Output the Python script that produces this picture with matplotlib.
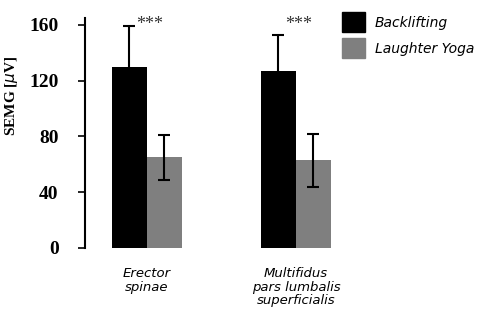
import numpy as np
import matplotlib.pyplot as plt
from matplotlib.patches import Patch

# data
muscles = ['Erector\nspinae', 'Multifidus\npars lumbalis\nsuperficialis']
series = ['Backlifting', 'Laughter Yoga']
backlifting = [130, 127]
backlifting_err = [29, 26]
laughter = [65, 63]
laughter_err = [16, 19]
stars = ['***', '***']
yticks = [0, 40, 80, 120, 160]

colors = ['#000000', '#7f7f7f']
serif = 'Liberation Serif'
script = 'DejaVu Sans'

fig = plt.figure(figsize=(4.9, 3.23), dpi=100)
ax = fig.add_axes([85/490, 75/323, 405/490, 230/323])

x = np.arange(len(muscles))
w = 0.235
ax.bar(x - w/2, backlifting, w, color=colors[0], yerr=backlifting_err,
       error_kw=dict(ecolor='black', elinewidth=1.5, capsize=4, capthick=1.5))
ax.bar(x + w/2, laughter, w, color=colors[1], yerr=laughter_err,
       error_kw=dict(ecolor='black', elinewidth=1.5, capsize=4, capthick=1.5))

for xi, s in zip(x, stars):
    ax.text(xi + 0.02, 160, s, ha='center', va='center', fontsize=13,
            color='#333333', family=serif)

ax.set_xlim(-0.416, -0.416 + 405/149)
ax.set_ylim(0, 165)
ax.set_yticks(yticks)
ax.set_yticklabels([str(t) for t in yticks], family=serif, fontweight='bold', fontsize=14)
ax.tick_params(axis='y', length=5, width=1.2, pad=14)
ax.set_xticks(x)
ax.set_xticklabels(muscles, family=script, style='italic', fontsize=9.5, linespacing=1.05)
ax.tick_params(axis='x', length=0, pad=14)
for s in ['top', 'right', 'bottom']:
    ax.spines[s].set_visible(False)
ax.spines['left'].set_linewidth(1.5)

ax.set_ylabel(r'SEMG [$\mu$V]', family=serif, fontweight='bold', fontsize=11)
ax.yaxis.set_label_coords(-0.16, 0.66)

handles = [Patch(color=c) for c in colors]
fig.legend(handles, series, loc='upper left', bbox_to_anchor=(342/490, 1 - 12/323),
           frameon=False, prop=dict(family=script, style='italic', size=10),
           borderpad=0, borderaxespad=0,
           handlelength=1.65, handleheight=1.85, handletextpad=0.7, labelspacing=0.45)

fig.savefig('out.png', dpi=100)
